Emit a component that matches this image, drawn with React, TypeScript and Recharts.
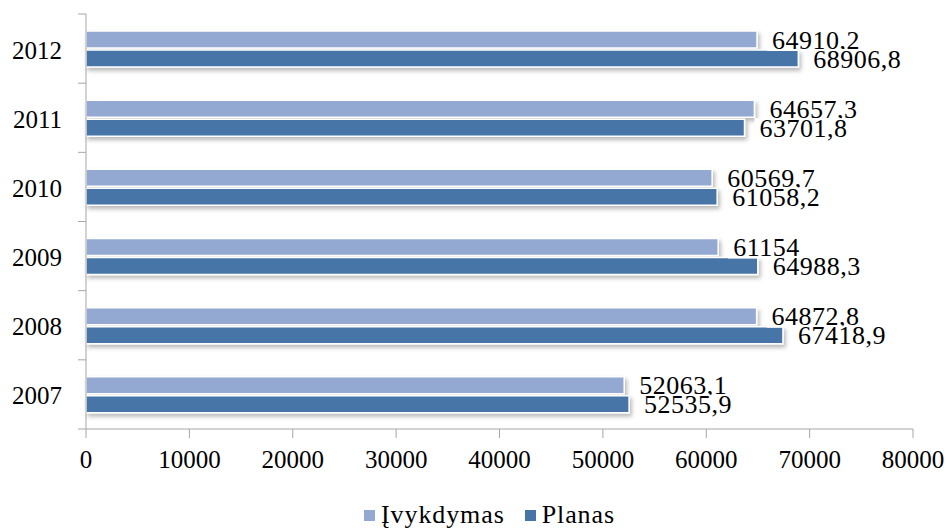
import { BarChart, Bar, XAxis, YAxis, Legend, LabelList } from "recharts";

const years = ["2012", "2011", "2010", "2009", "2008", "2007"];
const ivykdymas = [64910.2, 64657.3, 60569.7, 61154, 64872.8, 52063.1];
const planas = [68906.8, 63701.8, 61058.2, 64988.3, 67418.9, 52535.9];
const xTicks = [0, 10000, 20000, 30000, 40000, 50000, 60000, 70000, 80000];

const LIGHT = "#93a9d2";
const DARK = "#4674a8";
const AXIS = "#a6a6a6";
const FONT = "Tinos, serif";

const data = years.map((year, i) => ({
    year,
    ivykdymas: ivykdymas[i],
    planas: planas[i],
}));

const WIDTH = 949;
const HEIGHT = 529;
const TOP = 14;
const PLOT_BOTTOM = 429;
const BAND = (PLOT_BOTTOM - TOP) / years.length;

const fmt = (v: number) => String(v).replace(".", ",");

function YearTick(props: any) {
    const { x, y, payload, index } = props;
    const axisX = x + 2;
    return (
        <g>
            <line x1={axisX - 8} x2={axisX} y1={y - BAND / 2} y2={y - BAND / 2} stroke={AXIS} />
            {index === years.length - 1 && (
                <line x1={axisX - 8} x2={axisX} y1={y + BAND / 2} y2={y + BAND / 2} stroke={AXIS} />
            )}
            <text x={axisX - 24} y={y + 10} textAnchor="end" fontSize={25} fontFamily={FONT} fill="#000">
                {payload.value}
            </text>
        </g>
    );
}

function makeLabel(boxTop: number) {
    return (props: any) => {
        const { x, y, width, height, value } = props;
        const text = fmt(value);
        const tx = x + width + 15;
        const w = text.replace(",", "").length * 13.3 + (text.includes(",") ? 6.5 : 0);
        return (
            <g>
                <rect x={tx - 5} y={y + boxTop} width={w + 8} height={height + 3 - boxTop} fill="#fff" />
                <text x={tx} y={y + height / 2 + 9} fontSize={26} letterSpacing={0.5} fontFamily={FONT} fill="#000">
                    {text}
                </text>
            </g>
        );
    };
}

function renderLegend() {
    const item = (color: string, name: string, gap: number) => (
        <span style={{ display: "inline-flex", alignItems: "center", marginRight: gap }}>
            <span style={{ width: 11, height: 11, background: color, display: "inline-block", marginRight: 6 }} />
            <span>{name}</span>
        </span>
    );
    return (
        <div
            style={{
                height: 40,
                paddingTop: 12,
                boxSizing: "border-box",
                lineHeight: "28px",
                fontSize: 26,
                letterSpacing: 0.9,
                fontFamily: FONT,
                color: "#000",
                display: "flex",
                justifyContent: "center",
                paddingLeft: 30,
            }}
        >
            {item(LIGHT, "Įvykdymas", 20)}
            {item(DARK, "Planas", 0)}
        </div>
    );
}

export default function App() {
    return (
        <div style={{ position: "absolute", left: 0, top: 0, width: WIDTH, height: HEIGHT, background: "#fff" }}>
            <BarChart
                width={WIDTH}
                height={HEIGHT}
                data={data}
                layout="vertical"
                margin={{ top: TOP, right: 36, bottom: 0, left: 0 }}
                barSize={17}
                barGap={2}
            >
                <defs>
                    <filter id="barShadow" x="-5%" y="-30%" width="115%" height="190%">
                        <feDropShadow dx="2" dy="3" stdDeviation="2" floodColor="#000" floodOpacity="0.28" />
                    </filter>
                </defs>
                <XAxis
                    type="number"
                    domain={[0, 80000]}
                    ticks={xTicks}
                    interval={0}
                    height={60}
                    stroke={AXIS}
                    tickSize={9}
                    tickMargin={12}
                    tick={{ fontSize: 25, fontFamily: FONT, fill: "#000" }}
                />
                <YAxis
                    type="category"
                    dataKey="year"
                    width={86}
                    stroke={AXIS}
                    tickLine={false}
                    tickSize={0}
                    tick={<YearTick />}
                />
                <Bar dataKey="ivykdymas" name="Įvykdymas" fill={LIGHT} stroke="#fff" strokeWidth={1.5} filter="url(#barShadow)" isAnimationActive={false}>
                    <LabelList dataKey="ivykdymas" content={makeLabel(-3)} />
                </Bar>
                <Bar dataKey="planas" name="Planas" fill={DARK} stroke="#fff" strokeWidth={1.5} filter="url(#barShadow)" isAnimationActive={false}>
                    <LabelList dataKey="planas" content={makeLabel(-1)} />
                </Bar>
                <Legend verticalAlign="bottom" height={40} content={renderLegend} wrapperStyle={{ left: 0, width: WIDTH }} />
            </BarChart>
        </div>
    );
}
